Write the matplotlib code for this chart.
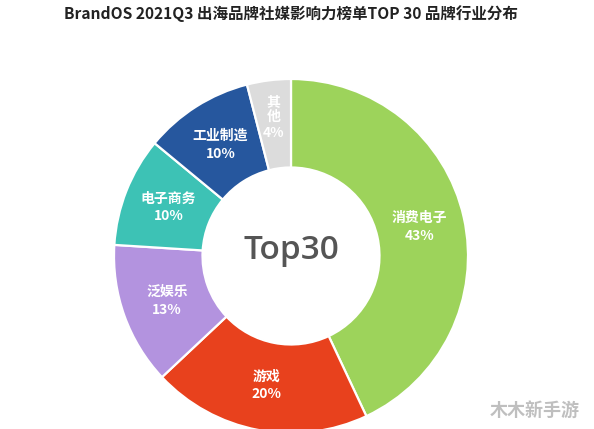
import matplotlib
matplotlib.use("Agg")
import matplotlib.pyplot as plt
import numpy as np

plt.rcParams['font.family'] = ['Noto Sans CJK SC', 'DejaVu Sans']

categories = ['消费电子', '游戏', '泛娱乐', '电子商务', '工业制造', '其他']
values = [43, 20, 13, 10, 10, 4]
colors = ['#9DD35B', '#E8411D', '#B393DF', '#3DC2B5', '#26579E', '#DCDCDC']
title = 'BrandOS 2021Q3 出海品牌社媒影响力榜单TOP 30 品牌行业分布'

W, H = 594, 429
fig = plt.figure(figsize=(W / 100, H / 100), dpi=100)
fig.patch.set_facecolor('white')

cx, cy, R = 291, 256, 177
ax = fig.add_axes([(cx - R) / W, (H - cy - R) / H, 2 * R / W, 2 * R / H])
wedges, _ = ax.pie(values, colors=colors, startangle=90, counterclock=False,
                   radius=1.0, wedgeprops=dict(width=0.5, edgecolor='white', linewidth=1.6))
for w in wedges:
    w.set_clip_on(False)
ax.set_xlim(-1, 1)
ax.set_ylim(-1, 1)
ax.axis('off')

total = sum(values)
start = 90.0
for cat, v in zip(categories, values):
    ang = start - v / total * 360 / 2
    start -= v / total * 360
    if cat == '其他':
        r = 0.79
        label = '其\n他\n' + f'{v}%'
        ls = 1.15
    else:
        r = 0.745
        label = f'{cat}\n{v}%'
        ls = 1.35
    x = r * np.cos(np.radians(ang))
    y = r * np.sin(np.radians(ang))
    ax.text(x, y, label, ha='center', va='center', color='white', fontsize=10,
            fontweight='bold', linespacing=ls)

ax.text(0, 0.03, 'Top30', ha='center', va='center', color='#555555', fontsize=24,
        fontweight='semibold', family=['Open Sans', 'DejaVu Sans'])

fig.text(0.49, 1 - 14 / H, title, ha='center', va='center', fontsize=11.2,
         fontweight='bold', color='#222222')
fig.text(535 / W, 1 - 410 / H, '木木新手游', ha='center', va='center', fontsize=13,
         fontweight='bold', color='#B0B0B0', alpha=0.8)

fig.savefig('out.png', dpi=100, facecolor='white')
